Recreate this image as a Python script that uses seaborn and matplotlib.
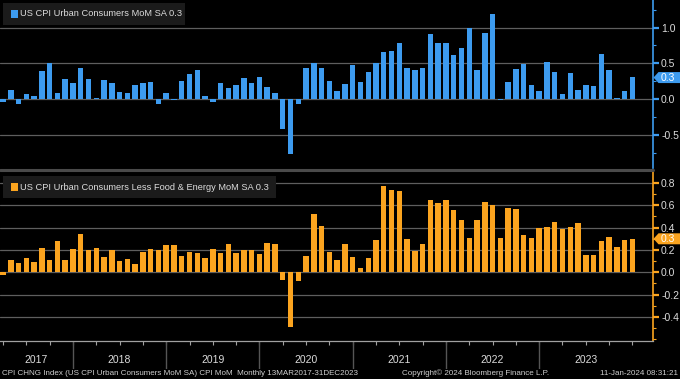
import numpy as np
import pandas as pd
import matplotlib
matplotlib.use("Agg")
import matplotlib.pyplot as plt
import seaborn as sns
from matplotlib.patches import Polygon, Rectangle
from matplotlib.lines import Line2D

# ---------------- data ----------------
months = [str(p) for p in pd.period_range("2017-03", "2023-12", freq="M")]

cpi_mom = [
    -0.04, 0.13, -0.07, 0.07, 0.04, 0.39, 0.51, 0.09, 0.28, 0.22,
    0.43, 0.28, 0.02, 0.26, 0.23, 0.10, 0.09, 0.19, 0.22, 0.24, -0.07, 0.08,
    -0.01, 0.25, 0.35, 0.40, 0.04, -0.04, 0.22, 0.16, 0.19, 0.29, 0.23, 0.31,
    0.17, 0.08, -0.42, -0.77, -0.07, 0.44, 0.51, 0.44, 0.25, 0.11, 0.21, 0.47,
    0.24, 0.38, 0.50, 0.66, 0.67, 0.79, 0.44, 0.41, 0.43, 0.91, 0.79, 0.78,
    0.61, 0.71, 1.00, 0.40, 0.93, 1.19, -0.02, 0.24, 0.42, 0.49, 0.20, 0.11,
    0.52, 0.38, 0.07, 0.37, 0.13, 0.19, 0.18, 0.63, 0.40, 0.01, 0.11, 0.31,
]
core_mom = [
    -0.02, 0.11, 0.08, 0.125, 0.09, 0.22, 0.11, 0.28, 0.11, 0.21,
    0.34, 0.20, 0.215, 0.14, 0.20, 0.10, 0.12, 0.07, 0.18, 0.21, 0.20, 0.24,
    0.24, 0.15, 0.18, 0.17, 0.125, 0.21, 0.17, 0.25, 0.17, 0.20, 0.20, 0.16,
    0.26, 0.25, -0.07, -0.49, -0.075, 0.15, 0.525, 0.415, 0.18, 0.11, 0.25, 0.14,
    0.04, 0.125, 0.29, 0.77, 0.74, 0.73, 0.30, 0.19, 0.25, 0.65, 0.62, 0.65,
    0.56, 0.47, 0.31, 0.47, 0.63, 0.60, 0.31, 0.58, 0.57, 0.33, 0.31, 0.40,
    0.41, 0.45, 0.385, 0.41, 0.44, 0.155, 0.155, 0.28, 0.32, 0.23, 0.285, 0.30,
]

years = ["2017", "2018", "2019", "2020", "2021", "2022", "2023"]
top_ticks = [-0.5, 0.0, 0.5, 1.0]
top_tick_labels = ["-0.5", "0.0", "0.5", "1.0"]
bot_ticks = [-0.4, -0.2, 0.0, 0.2, 0.4, 0.6, 0.8]
bot_tick_labels = ["-0.4", "-0.2", "0.0", "0.2", "0.4", "0.6", "0.8"]
last_value = 0.3
last_label = "0.3"

top_title = "US CPI Urban Consumers MoM SA 0.3"
bot_title = "US CPI Urban Consumers Less Food & Energy MoM SA 0.3"
footer_left = "CPI CHNG Index (US CPI Urban Consumers MoM SA) CPI MoM  Monthly 13MAR2017-31DEC2023"
footer_mid = "Copyright\u00a9 2024 Bloomberg Finance L.P."
footer_right = "11-Jan-2024 08:31:21"

# ---------------- style ----------------
BLUE = "#3d9bef"
ORANGE = "#fba41f"
GRID = "#5e5e5e"
TXT = "#dcdcdc"
BG = "black"

sns.set_style("dark")
plt.rcParams["font.family"] = ["Liberation Sans", "DejaVu Sans"]
plt.rcParams["axes.facecolor"] = BG
plt.rcParams["figure.facecolor"] = BG

W, H = 680, 379
fig = plt.figure(figsize=(W / 100, H / 100), dpi=100)


def px_rect(x0, y0, x1, y1):
    return [x0 / W, 1 - y1 / H, (x1 - x0) / W, (y1 - y0) / H]


def fx(x):
    return x / W


def fy(y):
    return 1 - y / H


RIGHT = 652.7
ax_top = fig.add_axes(px_rect(0, 0, RIGHT, 168))
ax_bot = fig.add_axes(px_rect(0, 172, RIGHT, 341))
ax_date = fig.add_axes(px_rect(0, 341, RIGHT, 369))

XLIM = (-0.39, 83.61)

df = pd.DataFrame({"month": months, "cpi": cpi_mom, "core": core_mom})


def style_panel(ax, col, ylim, ticks, labels, minor):
    ax.set_facecolor(BG)
    ax.set_xlim(*XLIM)
    ax.set_ylim(*ylim)
    ax.set_xticks([])
    ax.set_xlabel("")
    ax.set_ylabel("")
    for v in ticks:
        ax.axhline(v, color=GRID, lw=0.9, zorder=0)
    ax.yaxis.tick_right()
    ax.set_yticks(ticks)
    ax.set_yticklabels(labels)
    ax.set_yticks(minor, minor=True)
    ax.tick_params(axis="y", which="major", direction="out", length=4, width=1.6,
                   color=col, labelcolor=TXT, labelsize=7.5, pad=2)
    ax.tick_params(axis="y", which="minor", direction="out", length=2.5, width=0.8,
                   color=col)
    for s in ["left", "top", "bottom"]:
        ax.spines[s].set_visible(False)
    ax.spines["right"].set_color(col)
    ax.spines["right"].set_linewidth(1.2)


sns.barplot(data=df, x="month", y="cpi", ax=ax_top, color=BLUE, saturation=1,
            width=0.7, errorbar=None, linewidth=0)
style_panel(ax_top, BLUE, (-0.965, 1.385), top_ticks, top_tick_labels,
            [-0.75, -0.25, 0.25, 0.75, 1.25])

sns.barplot(data=df, x="month", y="core", ax=ax_bot, color=ORANGE, saturation=1,
            width=0.7, errorbar=None, linewidth=0)
style_panel(ax_bot, ORANGE, (-0.615, 0.898), bot_ticks, bot_tick_labels,
            [-0.6, -0.5, -0.3, -0.1, 0.1, 0.3, 0.5, 0.7])

# separator between panels
fig.add_artist(Line2D([0, fx(RIGHT)], [fy(170), fy(170)], color="#4a4a4a", lw=2.2))

# ---------------- date strip ----------------
ax_date.set_facecolor(BG)
ax_date.set_xlim(*XLIM)
ax_date.set_ylim(0, 1)
ax_date.set_yticks([])
for s in ["left", "right", "bottom"]:
    ax_date.spines[s].set_visible(False)
ax_date.spines["top"].set_color("#a0a0a0")
ax_date.spines["top"].set_linewidth(0.9)
month_nums = [int(m[-2:]) for m in months]
quarter_pos = [i for i, m in enumerate(month_nums) if m % 3 == 0]
dec_pos = [i for i, m in enumerate(month_nums) if m == 12]
ax_date.xaxis.tick_top()
ax_date.set_xticks(quarter_pos)
ax_date.set_xticklabels([])
ax_date.tick_params(axis="x", which="major", direction="in", length=3, width=0.8,
                    color="#a0a0a0")
for p in dec_pos[:-1]:
    ax_date.axvline(p, color="#555555", lw=1.0)
bounds = [XLIM[0]] + dec_pos
for i, yr in enumerate(years):
    ax_date.text((bounds[i] + bounds[i + 1]) / 2, 0.32, yr, ha="center", va="center",
                 color=TXT, fontsize=7.5)

# ---------------- legends ----------------
def legend_box(x0, y0, x1, y1, col, text):
    fig.add_artist(Rectangle((fx(x0), fy(y1)), fx(x1 - x0), (y1 - y0) / H,
                             transform=fig.transFigure, facecolor="#1b1b1b",
                             edgecolor="none"))
    cy = (y0 + y1) / 2
    fig.add_artist(Rectangle((fx(10.5), fy(cy + 4)), fx(7.5), 8 / H,
                             transform=fig.transFigure, facecolor=col, edgecolor="none"))
    fig.text(fx(20), fy(cy), text, color=TXT, fontsize=6.7, va="center", ha="left")


legend_box(3, 3, 185, 25, BLUE, top_title)
legend_box(3, 176, 276, 198, ORANGE, bot_title)

# ---------------- last value tags ----------------
def tag(ax, col):
    disp = ax.transData.transform((0, last_value))
    yp = (fig.bbox.height - disp[1]) * (H / fig.bbox.height)
    h = 5.5
    pts = [(653.5, yp), (658.5, yp - h), (680, yp - h), (680, yp + h), (658.5, yp + h)]
    fig.add_artist(Polygon([(fx(a), fy(b)) for a, b in pts], closed=True,
                           transform=fig.transFigure, facecolor=col, edgecolor="none"))
    fig.text(fx(668), fy(yp), last_label, color="white", fontsize=7.5,
             ha="center", va="center")


tag(ax_top, BLUE)
tag(ax_bot, ORANGE)

# ---------------- footer ----------------
fig.text(fx(2), fy(373.5), footer_left, color="#cfcfcf", fontsize=5.75, va="center", ha="left")
fig.text(fx(402), fy(373.5), footer_mid, color="#cfcfcf", fontsize=5.75, va="center", ha="left")
fig.text(fx(678), fy(373.5), footer_right, color="#cfcfcf", fontsize=5.75, va="center", ha="right")

fig.savefig("out.png", dpi=100, facecolor=BG)
